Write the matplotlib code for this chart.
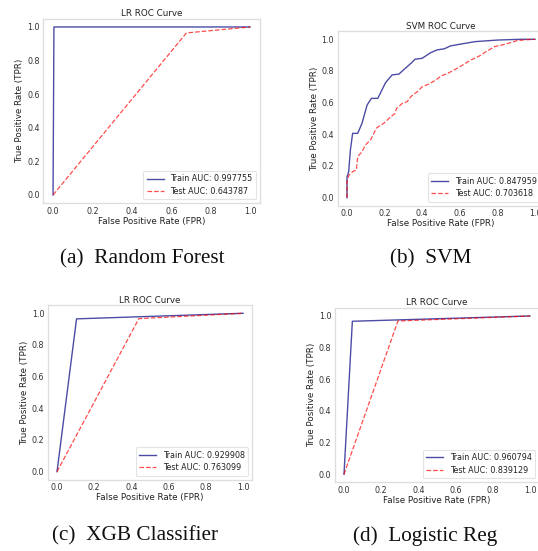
#!/usr/bin/env python3
"""ROC curves for four classifiers, 2x2 grid with captions."""

import matplotlib.pyplot as plt

plt.rcParams['font.family'] = ['DejaVu Sans']

# Random Forest (single threshold points)
rf_train_fpr = [0.0, 0.0045, 1.0]
rf_train_tpr = [0.0, 1.0, 1.0]
rf_test_fpr = [0.0, 0.677, 1.0]
rf_test_tpr = [0.0, 0.9646, 1.0]

# SVM
svm_train_fpr = [0.0, 0.0, 0.009, 0.018, 0.03, 0.057, 0.08, 0.107, 0.13, 0.164,
                 0.19, 0.205, 0.24, 0.276, 0.30, 0.34, 0.362, 0.40, 0.446, 0.48,
                 0.518, 0.55, 0.607, 0.68, 0.80, 0.925, 1.0]
svm_train_tpr = [0.0, 0.13, 0.164, 0.30, 0.406, 0.406, 0.47, 0.585, 0.627, 0.627,
                 0.69, 0.726, 0.775, 0.78, 0.806, 0.848, 0.874, 0.88, 0.916, 0.933,
                 0.94, 0.958, 0.97, 0.985, 0.995, 1.0, 1.0]
svm_test_fpr = [0.0, 0.0, 0.009, 0.03, 0.05, 0.057, 0.08, 0.098, 0.125, 0.143,
                0.157, 0.196, 0.232, 0.254, 0.264, 0.295, 0.32, 0.34, 0.375, 0.40,
                0.44, 0.473, 0.50, 0.536, 0.57, 0.616, 0.66, 0.705, 0.74, 0.786,
                0.84, 0.90, 0.943, 1.0]
svm_test_tpr = [0.0, 0.10, 0.14, 0.164, 0.175, 0.26, 0.29, 0.333, 0.364, 0.406,
                0.44, 0.47, 0.51, 0.53, 0.564, 0.596, 0.606, 0.638, 0.67, 0.70,
                0.72, 0.743, 0.768, 0.785, 0.806, 0.838, 0.87, 0.895, 0.922, 0.954,
                0.968, 0.99, 0.996, 1.0]

# XGB
xgb_train_fpr = [0.0, 0.105, 1.0]
xgb_train_tpr = [0.0, 0.9648, 1.0]
xgb_test_fpr = [0.0, 0.44, 1.0]
xgb_test_tpr = [0.0, 0.9662, 1.0]

# Logistic regression
lr_train_fpr = [0.0, 0.045, 1.0]
lr_train_tpr = [0.0, 0.9666, 1.0]
lr_test_fpr = [0.0, 0.29, 1.0]
lr_test_tpr = [0.0, 0.9683, 1.0]

titles = ['LR ROC Curve', 'SVM ROC Curve', 'LR ROC Curve', 'LR ROC Curve']
train_auc = ['0.997755', '0.847959', '0.929908', '0.960794']
test_auc = ['0.643787', '0.703618', '0.763099', '0.839129']
captions = ['(a)  Random Forest', '(b)  SVM', '(c)  XGB Classifier', '(d)  Logistic Reg']

curves = [
    (rf_train_fpr, rf_train_tpr, rf_test_fpr, rf_test_tpr),
    (svm_train_fpr, svm_train_tpr, svm_test_fpr, svm_test_tpr),
    (xgb_train_fpr, xgb_train_tpr, xgb_test_fpr, xgb_test_tpr),
    (lr_train_fpr, lr_train_tpr, lr_test_fpr, lr_test_tpr),
]

# axes boxes in figure fraction [left, bottom, width, height]
boxes = [
    [0.0803, 0.6309, 0.4028, 0.3354],
    [0.6275, 0.6269, 0.3844, 0.3162],
    [0.0887, 0.1296, 0.3803, 0.3162],
    [0.6221, 0.1249, 0.3803, 0.3160],
]
caption_pos = [(0.2636, 0.530), (0.800, 0.530), (0.251, 0.027), (0.790, 0.027)]

fig = plt.figure(figsize=(5.38, 5.51), dpi=100)
fig.patch.set_facecolor('white')

fs_label = 6.3   # title and axis labels
fs_small = 5.8   # ticks and legend
for i in range(4):
    ax = fig.add_axes(boxes[i])
    tr_x, tr_y, te_x, te_y = curves[i]
    ax.plot(tr_x, tr_y, color='navy', alpha=0.7, lw=1.0,
            label=f'Train AUC: {train_auc[i]}')
    ax.plot(te_x, te_y, color='red', alpha=0.7, lw=0.9, linestyle='--',
            label=f'Test AUC: {test_auc[i]}')
    ax.set_xlim(-0.05, 1.05)
    ax.set_ylim(-0.05, 1.05)
    ax.set_xticks([0.0, 0.2, 0.4, 0.6, 0.8, 1.0])
    ax.set_yticks([0.0, 0.2, 0.4, 0.6, 0.8, 1.0])
    ax.tick_params(length=0, labelsize=fs_small, colors='#333333', pad=2.5)
    for s in ax.spines.values():
        s.set_color('#dddddd')
        s.set_linewidth(0.9)
    ax.set_title(titles[i], fontsize=fs_label, color='#222222', pad=2)
    ax.set_xlabel('False Positive Rate (FPR)', fontsize=fs_label, color='#222222', labelpad=1)
    ax.set_ylabel('True Positive Rate (TPR)', fontsize=fs_label, color='#222222', labelpad=2)
    leg = ax.legend(loc='lower right', fontsize=fs_small, frameon=True, handlelength=2.1,
                    borderpad=0.45, labelspacing=0.4)
    leg.get_frame().set_edgecolor('#dddddd')
    leg.get_frame().set_linewidth(0.8)
    for t in leg.get_texts():
        t.set_color('#222222')

for (x, y), cap in zip(caption_pos, captions):
    fig.text(x, y, cap, ha='center', va='center', fontsize=15.3,
             family='Liberation Serif', color='#111111')

plt.savefig('out.png', dpi=100)
